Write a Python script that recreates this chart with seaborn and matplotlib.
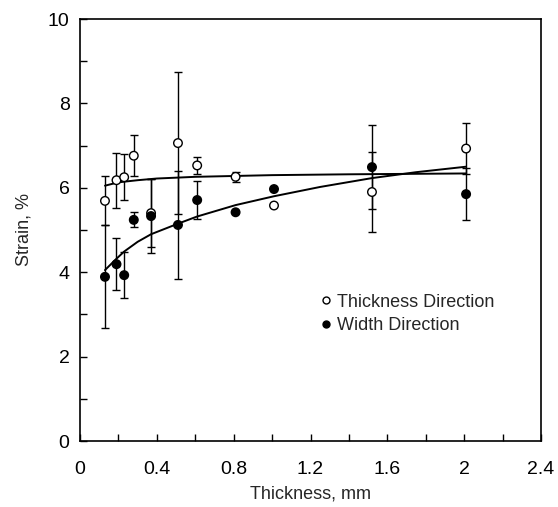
import numpy as np
import pandas as pd
import matplotlib
matplotlib.use("Agg")
import matplotlib.pyplot as plt
import seaborn as sns
from matplotlib.ticker import MultipleLocator
from matplotlib.lines import Line2D

# ---- data ----
thickness_mm = [0.13, 0.19, 0.23, 0.28, 0.37, 0.51, 0.61, 0.81, 1.01, 1.52, 2.01]
strain_thickness_dir = [5.69, 6.18, 6.25, 6.76, 5.40, 7.06, 6.53, 6.26, 5.58, 5.90, 6.93]
err_thickness_dir = [0.58, 0.65, 0.55, 0.48, 0.80, 1.68, 0.20, 0.12, np.nan, 0.95, 0.60]
strain_width_dir = [3.89, 4.19, 3.93, 5.24, 5.33, 5.12, 5.71, 5.42, 5.97, 6.49, 5.85]
err_width_dir = [1.22, 0.62, 0.55, 0.18, 0.88, 1.28, 0.45, np.nan, np.nan, 0.99, 0.61]

# fitted curves
fit_thick_x = [0.13, 0.20, 0.30, 0.40, 0.60, 0.80, 1.00, 1.40, 2.01]
fit_thick_y = [6.05, 6.13, 6.18, 6.22, 6.26, 6.28, 6.30, 6.32, 6.34]
fit_width_x = [0.13, 0.19, 0.23, 0.30, 0.37, 0.51, 0.61, 0.81, 1.01, 1.25, 1.52, 1.75, 2.01]
fit_width_y = [4.05, 4.32, 4.49, 4.72, 4.90, 5.15, 5.32, 5.59, 5.80, 6.02, 6.23, 6.37, 6.50]

x_ticks = [0, 0.4, 0.8, 1.2, 1.6, 2, 2.4]
x_ticklabels = ["0", "0.4", "0.8", "1.2", "1.6", "2", "2.4"]
y_ticks = [0, 2, 4, 6, 8, 10]

sns.set_style("ticks")
plt.rcParams["font.family"] = ["Liberation Sans", "DejaVu Sans"]

fig = plt.figure(figsize=(5.58, 5.07), dpi=100)
ax = fig.add_axes([80 / 558, 1 - 441 / 507, 461 / 558, 422 / 507])

df = pd.DataFrame({
    "x": thickness_mm * 2,
    "strain": strain_thickness_dir + strain_width_dir,
    "err": err_thickness_dir + err_width_dir,
    "dir": ["Thickness Direction"] * len(thickness_mm) + ["Width Direction"] * len(thickness_mm),
})

# error bars
eb = df.dropna(subset=["err"])
ax.errorbar(eb["x"], eb["strain"], yerr=eb["err"], fmt="none", ecolor="black",
            elinewidth=1.0, capsize=3, capthick=1.0, zorder=2)

# fit curves
sns.lineplot(x=fit_thick_x, y=fit_thick_y, color="black", lw=1.4, ax=ax, zorder=3)
sns.lineplot(x=fit_width_x, y=fit_width_y, color="black", lw=1.4, ax=ax, zorder=3)

# points
sns.scatterplot(data=df, x="x", y="strain", hue="dir", style="dir",
                markers={"Thickness Direction": "o", "Width Direction": "o"},
                palette={"Thickness Direction": "white", "Width Direction": "black"},
                edgecolor="black", linewidth=1.0, s=38, ax=ax, zorder=4, legend=False)

ax.set_xlim(0, 2.4)
ax.set_ylim(0, 10)
ax.set_xticks(x_ticks)
ax.set_xticklabels(x_ticklabels)
ax.set_yticks(y_ticks)
ax.xaxis.set_minor_locator(MultipleLocator(0.2))
ax.yaxis.set_minor_locator(MultipleLocator(1))
ax.tick_params(which="both", direction="in", length=5, width=1, labelsize=14,
               top=False, right=False, colors="black")
ax.tick_params(axis="x", pad=14.5)
ax.tick_params(axis="y", pad=7.5)
for s in ax.spines.values():
    s.set_visible(True)
    s.set_linewidth(1.2)
    s.set_color("black")

ax.set_xlabel("Thickness, mm", fontsize=13, labelpad=5)
ax.set_ylabel("Strain, %", fontsize=13, labelpad=11)

handles = [
    Line2D([], [], marker="o", ls="none", mfc="white", mec="black", ms=5.0, mew=1.0),
    Line2D([], [], marker="o", ls="none", mfc="black", mec="black", ms=5.0, mew=1.0),
]
ax.legend(handles, ["Thickness Direction", "Width Direction"], loc="center left",
          bbox_to_anchor=(0.482, 0.301), frameon=False, fontsize=13,
          handlelength=0.8, handletextpad=0.25, labelspacing=0.38)

fig.savefig("out.png", dpi=100)
